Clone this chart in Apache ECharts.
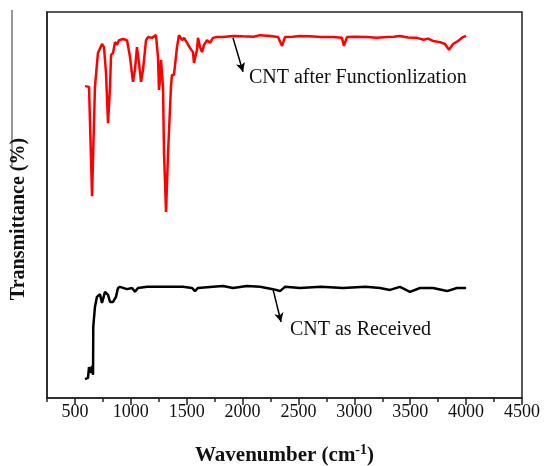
<!DOCTYPE html>
<html>
<head>
<meta charset="utf-8">
<script src="https://cdn.jsdelivr.net/npm/echarts@6/dist/echarts.min.js"></script>
<style>html,body{margin:0;padding:0;background:#fff}#c{width:546px;height:466px}</style>
</head>
<body>
<div id="c"></div>
<script>
// Wavenumber (cm-1) and transmittance (arbitrary units, offset spectra)
var functionalized = [
[590,80.8],[626,80.6],[653,52.3],[679,80.6],[706,89.4],[742,91.7],[760,90.9],[778,84.2],[796,71.2],[814,80.6],[823,88.9],[841,89.4],[858,92.2],[876,91.5],[894,92.7],[930,93.0],[966,92.7],[993,88.3],[1019,81.9],[1037,85.0],[1055,90.9],[1073,86.8],[1091,81.9],[1109,85.0],[1136,92.7],[1154,93.5],[1189,93.3],[1225,94.0],[1243,88.3],[1252,79.8],[1261,82.4],[1270,87.6],[1288,80.6],[1297,63.5],[1315,48.2],[1333,63.5],[1359,80.6],[1368,83.7],[1386,83.7],[1413,90.9],[1431,94.0],[1458,92.7],[1476,93.3],[1503,92.0],[1529,90.7],[1556,89.6],[1565,86.8],[1592,90.2],[1601,93.3],[1619,90.9],[1637,89.6],[1655,91.5],[1682,92.7],[1708,92.0],[1735,93.3],[1771,93.5],[1825,93.5],[1914,93.8],[2000,93.7],[2100,93.6],[2156,94.0],[2250,93.8],[2317,93.5],[2353,91.2],[2379,93.5],[2450,93.6],[2514,93.8],[2600,93.7],[2700,93.5],[2809,93.5],[2889,93.3],[2907,91.2],[2934,93.5],[3000,93.6],[3113,93.5],[3200,93.3],[3292,93.5],[3350,93.6],[3408,93.8],[3480,93.4],[3560,93.3],[3620,92.8],[3660,93.1],[3704,92.5],[3766,92.2],[3811,91.7],[3847,90.2],[3883,91.7],[3927,92.5],[3972,93.5],[4000,93.8]
];
var received = [
[590,4.9],[617,5.2],[626,8.0],[644,6.5],[653,8.3],[662,6.0],[664,18.4],[679,23.6],[697,26.2],[724,26.9],[742,24.6],[769,27.5],[796,26.7],[814,24.9],[841,24.9],[867,26.2],[885,28.5],[903,28.8],[966,28.2],[1011,28.5],[1037,27.5],[1064,28.5],[1145,28.8],[1261,28.8],[1467,28.8],[1547,28.5],[1574,27.7],[1601,28.5],[1735,28.8],[1825,29.0],[1914,28.5],[2039,29.0],[2156,28.8],[2272,28.2],[2335,27.7],[2379,28.8],[2514,28.5],[2700,28.8],[2900,28.5],[3100,28.8],[3229,28.5],[3319,28.0],[3408,28.8],[3498,27.5],[3587,28.5],[3704,28.5],[3829,27.7],[3918,28.5],[4000,28.5]
];
var majorTicks = [500,1000,1500,2000,2500,3000,3500,4000,4500];
var seriesNames = ['CNT after Functionlization','CNT as Received'];
// annotation anchors in data units: [arrowStart, arrowEnd, textLeftCenter]
var annotRed = [[1914,93.3],[2004,84.5],[2057,83.0]];
var annotBlack = [[2272,28.2],[2344,19.7],[2424,17.6]];

var serif = 'Liberation Serif';
var chart = echarts.init(document.getElementById('c'), null, {renderer:'canvas'});
function arrowLine(a){
  return {
    silent:true, symbol:['none','arrow'], symbolSize:[7,9],
    lineStyle:{color:'#000', width:1.5, type:'solid'},
    label:{show:false},
    data:[[{coord:a[0]},{coord:a[1]}]]
  };
}
chart.setOption({
  animation:false,
  backgroundColor:'#fff',
  grid:{left:47,right:24,top:12,bottom:68,containLabel:false,outerBoundsMode:'none',show:true,borderColor:'#222',borderWidth:1.5,backgroundColor:'transparent'},
  xAxis:[{
    type:'value', min:250, max:4500, interval:250,
    axisLine:{show:true,lineStyle:{color:'#222',width:1.5}},
    axisTick:{show:true,inside:false,length:4,lineStyle:{color:'#222',width:1.5}},
    splitLine:{show:false},
    axisLabel:{margin:5,color:'#111',fontFamily:serif,fontSize:18,
      formatter:function(v){return (v%500===0)?String(v):'';}},
    name:'Wavenumber (cm{sup|-1})', nameLocation:'middle', nameGap:45,
    nameTextStyle:{fontFamily:serif,fontSize:21,fontWeight:'bold',color:'#111',
      rich:{sup:{fontFamily:serif,fontSize:14,fontWeight:'bold',color:'#111',verticalAlign:'top',padding:[0,0,11,0]}}}
  },{
    type:'value', min:250, max:4500, interval:250, position:'bottom',
    axisLine:{show:false},
    axisTick:{show:true,inside:false,length:7,customValues:majorTicks,lineStyle:{color:'#222',width:1.5}},
    axisLabel:{show:false}, splitLine:{show:false}
  }],
  yAxis:{
    type:'value', min:0, max:100,
    axisLine:{show:true,lineStyle:{color:'#222',width:1.5}},
    axisTick:{show:false}, axisLabel:{show:false}, splitLine:{show:false},
    name:'Transmittance (%)', nameLocation:'middle', nameGap:18,
    nameTextStyle:{fontFamily:serif,fontSize:20,fontWeight:'bold',color:'#111',padding:[0,28,0,0]}
  },
  series:[{
    name:seriesNames[0], type:'line', xAxisIndex:0, data:functionalized, showSymbol:false,
    lineStyle:{color:'#ff0000',width:2.5}, smooth:false,
    markLine:arrowLine(annotRed)
  },{
    name:seriesNames[1], type:'line', xAxisIndex:0, data:received, showSymbol:false,
    lineStyle:{color:'#000',width:2.5}, smooth:false,
    markLine:arrowLine(annotBlack)
  }]
});
var pR = chart.convertToPixel({xAxisIndex:0,yAxisIndex:0}, annotRed[2]);
var pB = chart.convertToPixel({xAxisIndex:0,yAxisIndex:0}, annotBlack[2]);
chart.setOption({graphic:[
  {type:'text',x:pR[0],y:pR[1],style:{text:seriesNames[0],fontFamily:serif,fontSize:20,fill:'#111',verticalAlign:'middle',align:'left'}},
  {type:'text',x:pB[0],y:pB[1],style:{text:seriesNames[1],fontFamily:serif,fontSize:20,fill:'#111',verticalAlign:'middle',align:'left'}},
  {type:'line',shape:{x1:12,y1:10,x2:12,y2:166},style:{stroke:'#333',lineWidth:1}}
]});
</script>
</body>
</html>
